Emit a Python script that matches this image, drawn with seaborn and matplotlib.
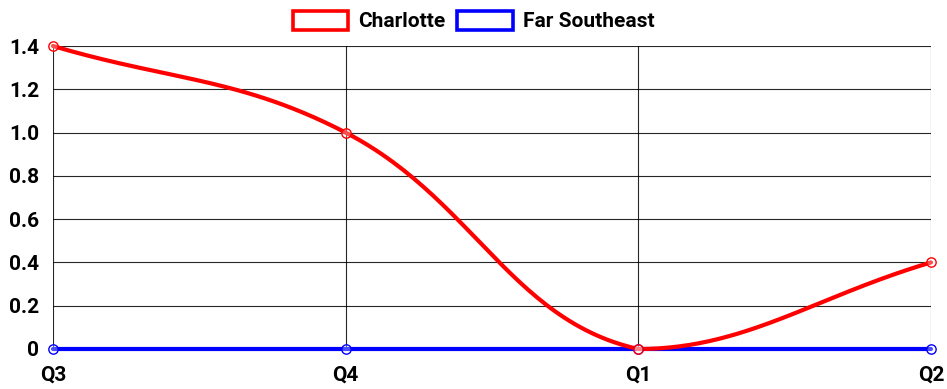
import numpy as np
import pandas as pd
import matplotlib
matplotlib.use("Agg")
import matplotlib.pyplot as plt
from matplotlib.patches import Rectangle
import seaborn as sns

quarters = ["Q3", "Q4", "Q1", "Q2"]
charlotte = [1.4, 1.0, 0.0, 0.4]
far_southeast = [0.0, 0.0, 0.0, 0.0]
series_names = ["Charlotte", "Far Southeast"]
series_colors = ["#ff0000", "#0000ff"]
y_ticks = [0, 0.2, 0.4, 0.6, 0.8, 1.0, 1.2, 1.4]
y_tick_labels = ["0", "0.2", "0.4", "0.6", "0.8", "1.0", "1.2", "1.4"]

sns.set_style("white")
plt.rcParams["font.family"] = ["Roboto", "DejaVu Sans"]
plt.rcParams["font.weight"] = "bold"

W, H = 947, 389
fig = plt.figure(figsize=(W / 100, H / 100), dpi=100)
left, right, top, bottom = 53, 931, 46, 349
ax = fig.add_axes([left / W, 1 - bottom / H, (right - left) / W, (bottom - top) / H])
ax.set_xlim(0, len(quarters) - 1)
ax.set_ylim(0, 1.4)
fig.canvas.draw()


def spline_path(xs, ys, tension=0.4, n=60):
    """Cardinal-style bezier through points, computed in pixel space,
    with control points kept inside the plotting area."""
    pts = ax.transData.transform(np.column_stack([xs, ys]))
    bb = ax.get_window_extent()
    m = len(pts)
    cps = []
    for i in range(m):
        cur = pts[i]
        prev = pts[i - 1] if i > 0 else cur
        nxt = pts[i + 1] if i < m - 1 else cur
        d01 = np.hypot(*(cur - prev))
        d12 = np.hypot(*(nxt - cur))
        tot = d01 + d12
        s01 = d01 / tot if tot else 0
        s12 = d12 / tot if tot else 0
        cp_prev = cur - tension * s01 * (nxt - prev)
        cp_next = cur + tension * s12 * (nxt - prev)
        for cp in (cp_prev, cp_next):
            cp[0] = min(max(cp[0], bb.x0), bb.x1)
            cp[1] = min(max(cp[1], bb.y0), bb.y1)
        cps.append((cp_prev, cp_next))
    t = np.linspace(0, 1, n)[:, None]
    segs = []
    for i in range(m - 1):
        p0, p3 = pts[i], pts[i + 1]
        p1, p2 = cps[i][1], cps[i + 1][0]
        seg = ((1 - t) ** 3) * p0 + 3 * ((1 - t) ** 2) * t * p1 + 3 * (1 - t) * t ** 2 * p2 + t ** 3 * p3
        segs.append(seg if i == 0 else seg[1:])
    xy = ax.transData.inverted().transform(np.vstack(segs))
    return xy[:, 0], xy[:, 1]


x_idx = np.arange(len(quarters))
series_values = [charlotte, far_southeast]

# draw later series first so the first series sits on top
for order, (name, vals, color) in reversed(list(enumerate(zip(series_names, series_values, series_colors)))):
    sx, sy = spline_path(x_idx, vals)
    curve = pd.DataFrame({"x": sx, "y": sy})
    sns.lineplot(data=curve, x="x", y="y", sort=False, estimator=None, ax=ax,
                 color=color, linewidth=3.0, zorder=3 + (1 - order), clip_on=False)
    pts = pd.DataFrame({"x": x_idx, "y": vals})
    sns.scatterplot(data=pts, x="x", y="y", ax=ax, s=45, marker="o",
                    facecolor=(1, 1, 1, 0.3), edgecolor=color, linewidth=1.0,
                    zorder=6 + (1 - order), clip_on=False)

ax.set_xticks(x_idx)
ax.set_xticklabels(quarters)
ax.set_yticks(y_ticks)
ax.set_yticklabels(y_tick_labels)
ax.set_xlabel("")
ax.set_ylabel("")
ax.grid(True, color="#000000", linewidth=0.8, alpha=0.85)
for s in ax.spines.values():
    s.set_visible(False)
ax.tick_params(axis="both", which="both", length=8, width=0.8, color="#555555",
               labelsize=15, labelcolor="#000000")
ax.tick_params(axis="y", pad=2)
ax.tick_params(axis="x", pad=4)
for lab in ax.get_xticklabels() + ax.get_yticklabels():
    lab.set_fontweight("bold")
ax.set_axisbelow(True)

handles = [Rectangle((0, 0), 1, 1, facecolor="white", edgecolor=c, linewidth=2.6)
           for c in series_colors]
leg = fig.legend(handles, series_names, loc="center", bbox_to_anchor=(0.5, 1 - 21 / H),
                 ncol=2, frameon=False, handlelength=2.65, handleheight=1.05,
                 handletextpad=0.48, columnspacing=0.58,
                 prop={"family": ["Roboto", "DejaVu Sans"], "weight": "bold", "size": 15})
for txt in leg.get_texts():
    txt.set_color("#000000")

fig.savefig("out.png", dpi=100)
